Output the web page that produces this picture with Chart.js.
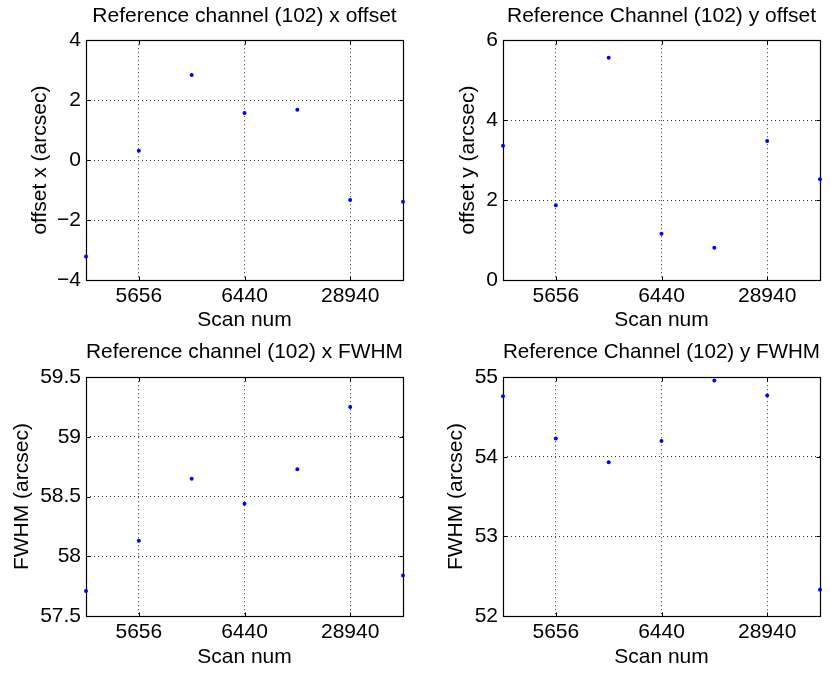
<!DOCTYPE html>
<html>
<head>
<meta charset="utf-8">
<script src="https://cdn.jsdelivr.net/npm/chart.js@4"></script>
<style>
  html, body { margin: 0; padding: 0; background: #fff; }
  body { width: 830px; height: 673px; position: relative; overflow: hidden; }
  canvas { position: absolute; }
</style>
</head>
<body>
<canvas id="c1" width="415" height="336" style="left:0;top:0;width:415px;height:336px"></canvas>
<canvas id="c2" width="415" height="336" style="left:415px;top:0;width:415px;height:336px"></canvas>
<canvas id="c3" width="415" height="337" style="left:0;top:336px;width:415px;height:337px"></canvas>
<canvas id="c4" width="415" height="337" style="left:415px;top:336px;width:415px;height:337px"></canvas>
<script>
// ---- data ----
const scanIndex = [1, 2, 3, 4, 5, 6, 7];
const xTickPositions = [2, 4, 6];
const xTickLabels = ['5656', '6440', '28940'];

const offsetX = [-3.22, 0.31, 2.84, 1.57, 1.68, -1.33, -1.39];
const offsetY = [3.36, 1.87, 5.56, 1.16, 0.81, 3.48, 2.52];
const fwhmX = [57.71, 58.13, 58.65, 58.44, 58.73, 59.25, 57.84];
const fwhmY = [54.76, 54.23, 53.93, 54.20, 54.96, 54.77, 52.33];

const titles = [
  'Reference channel (102) x offset',
  'Reference Channel (102) y offset',
  'Reference channel (102) x FWHM',
  'Reference Channel (102) y FWHM'
];
const yTitles = ['offset x (arcsec)', 'offset y (arcsec)', 'FWHM (arcsec)', 'FWHM (arcsec)'];
const xTitle = 'Scan num';
const yRange1 = [-4, 4, 2];
const yRange2 = [0, 6, 2];
const yRange3 = [57.5, 59.5, 0.5];
const yRange4 = [52, 55, 1];

// ---- rendering ----
const FONT = "'Liberation Sans', Arial, Helvetica, sans-serif";
const FS = 21;

const matlabAxes = {
  id: 'matlabAxes',
  beforeDatasetsDraw(chart) {
    const ctx = chart.ctx;
    const a = chart.chartArea;
    const xs = chart.scales.x, ys = chart.scales.y;
    const L = Math.round(a.left) + 0.5, R = Math.round(a.right) + 0.5;
    const T = Math.round(a.top) + 0.5, B = Math.round(a.bottom) + 0.5;
    ctx.save();
    ctx.strokeStyle = '#000';
    ctx.lineWidth = 1.2;
    ctx.setLineDash([]);
    ctx.strokeRect(L, T, R - L, B - T);
    ctx.lineWidth = 1;
    const tl = 4;
    ctx.beginPath();
    xs.ticks.forEach(t => {
      const px = Math.round(xs.getPixelForValue(t.value)) + 0.5;
      ctx.moveTo(px, B); ctx.lineTo(px, B - tl);
      ctx.moveTo(px, T); ctx.lineTo(px, T + tl);
    });
    ys.ticks.forEach(t => {
      const py = Math.round(ys.getPixelForValue(t.value)) + 0.5;
      ctx.moveTo(L, py); ctx.lineTo(L + tl, py);
      ctx.moveTo(R, py); ctx.lineTo(R - tl, py);
    });
    ctx.stroke();
    ctx.restore();
  }
};

function makeChart(id, values, title, yTitle, yRange, cfg) {
  const pts = scanIndex.map((x, i) => ({ x: x, y: values[i] }));
  return new Chart(document.getElementById(id), {
    type: 'scatter',
    data: {
      datasets: [{
        data: pts,
        backgroundColor: '#0000ff',
        borderColor: '#0000ff',
        pointRadius: 2,
        pointBorderWidth: 0,
        pointHoverRadius: 2,
        showLine: false,
        clip: false
      }]
    },
    plugins: [matlabAxes],
    options: {
      responsive: false,
      animation: false,
      events: [],
      layout: { padding: { left: 0, right: cfg.padRight, top: 0, bottom: 0 } },
      plugins: {
        legend: { display: false },
        tooltip: { enabled: false },
        title: {
          display: true,
          text: title,
          fullSize: false,
          color: '#000',
          font: { family: FONT, size: FS, weight: 'normal', lineHeight: 1.2 },
          padding: { top: cfg.titleTop, bottom: cfg.titleBottom }
        }
      },
      scales: {
        x: {
          type: 'linear',
          min: scanIndex[0],
          max: scanIndex[scanIndex.length - 1],
          afterBuildTicks: s => { s.ticks = xTickPositions.map(v => ({ value: v })); },
          afterFit: s => { s.height = cfg.xHeight; },
          ticks: {
            color: '#000',
            padding: 4,
            maxRotation: 0,
            autoSkip: false,
            font: { family: FONT, size: FS },
            callback: v => xTickLabels[xTickPositions.indexOf(v)]
          },
          grid: { color: '#333', lineWidth: 1, drawTicks: false },
          border: { display: false, dash: [1, 3] },
          title: {
            display: true, text: xTitle, color: '#000',
            font: { family: FONT, size: FS, lineHeight: 1.2 },
            padding: { top: 0, bottom: 3 }
          }
        },
        y: {
          type: 'linear',
          min: yRange[0],
          max: yRange[1],
          afterFit: s => { s.width = cfg.yWidth; },
          ticks: {
            stepSize: yRange[2],
            color: '#000',
            padding: 5,
            font: { family: FONT, size: FS },
            callback: v => String(v).replace('-', '\u2212')
          },
          grid: { color: '#333', lineWidth: 1, drawTicks: false },
          border: { display: false, dash: [1, 3] },
          title: {
            display: true, text: yTitle, color: '#000',
            font: { family: FONT, size: FS, lineHeight: 1.2 },
            padding: { top: cfg.yTitlePad, bottom: 0 }
          }
        }
      }
    }
  });
}

makeChart('c1', offsetX, titles[0], yTitles[0], yRange1,
  { padRight: 12, yWidth: 86, xHeight: 56, titleTop: 4, titleBottom: 11, yTitlePad: 28 });
makeChart('c2', offsetY, titles[1], yTitles[1], yRange2,
  { padRight: 10, yWidth: 88, xHeight: 56, titleTop: 4, titleBottom: 11, yTitlePad: 41 });
makeChart('c3', fwhmX, titles[2], yTitles[2], yRange3,
  { padRight: 12, yWidth: 86, xHeight: 57, titleTop: 4, titleBottom: 12, yTitlePad: 10 });
makeChart('c4', fwhmY, titles[3], yTitles[3], yRange4,
  { padRight: 10, yWidth: 88, xHeight: 57, titleTop: 4, titleBottom: 12, yTitlePad: 29 });
</script>
</body>
</html>
